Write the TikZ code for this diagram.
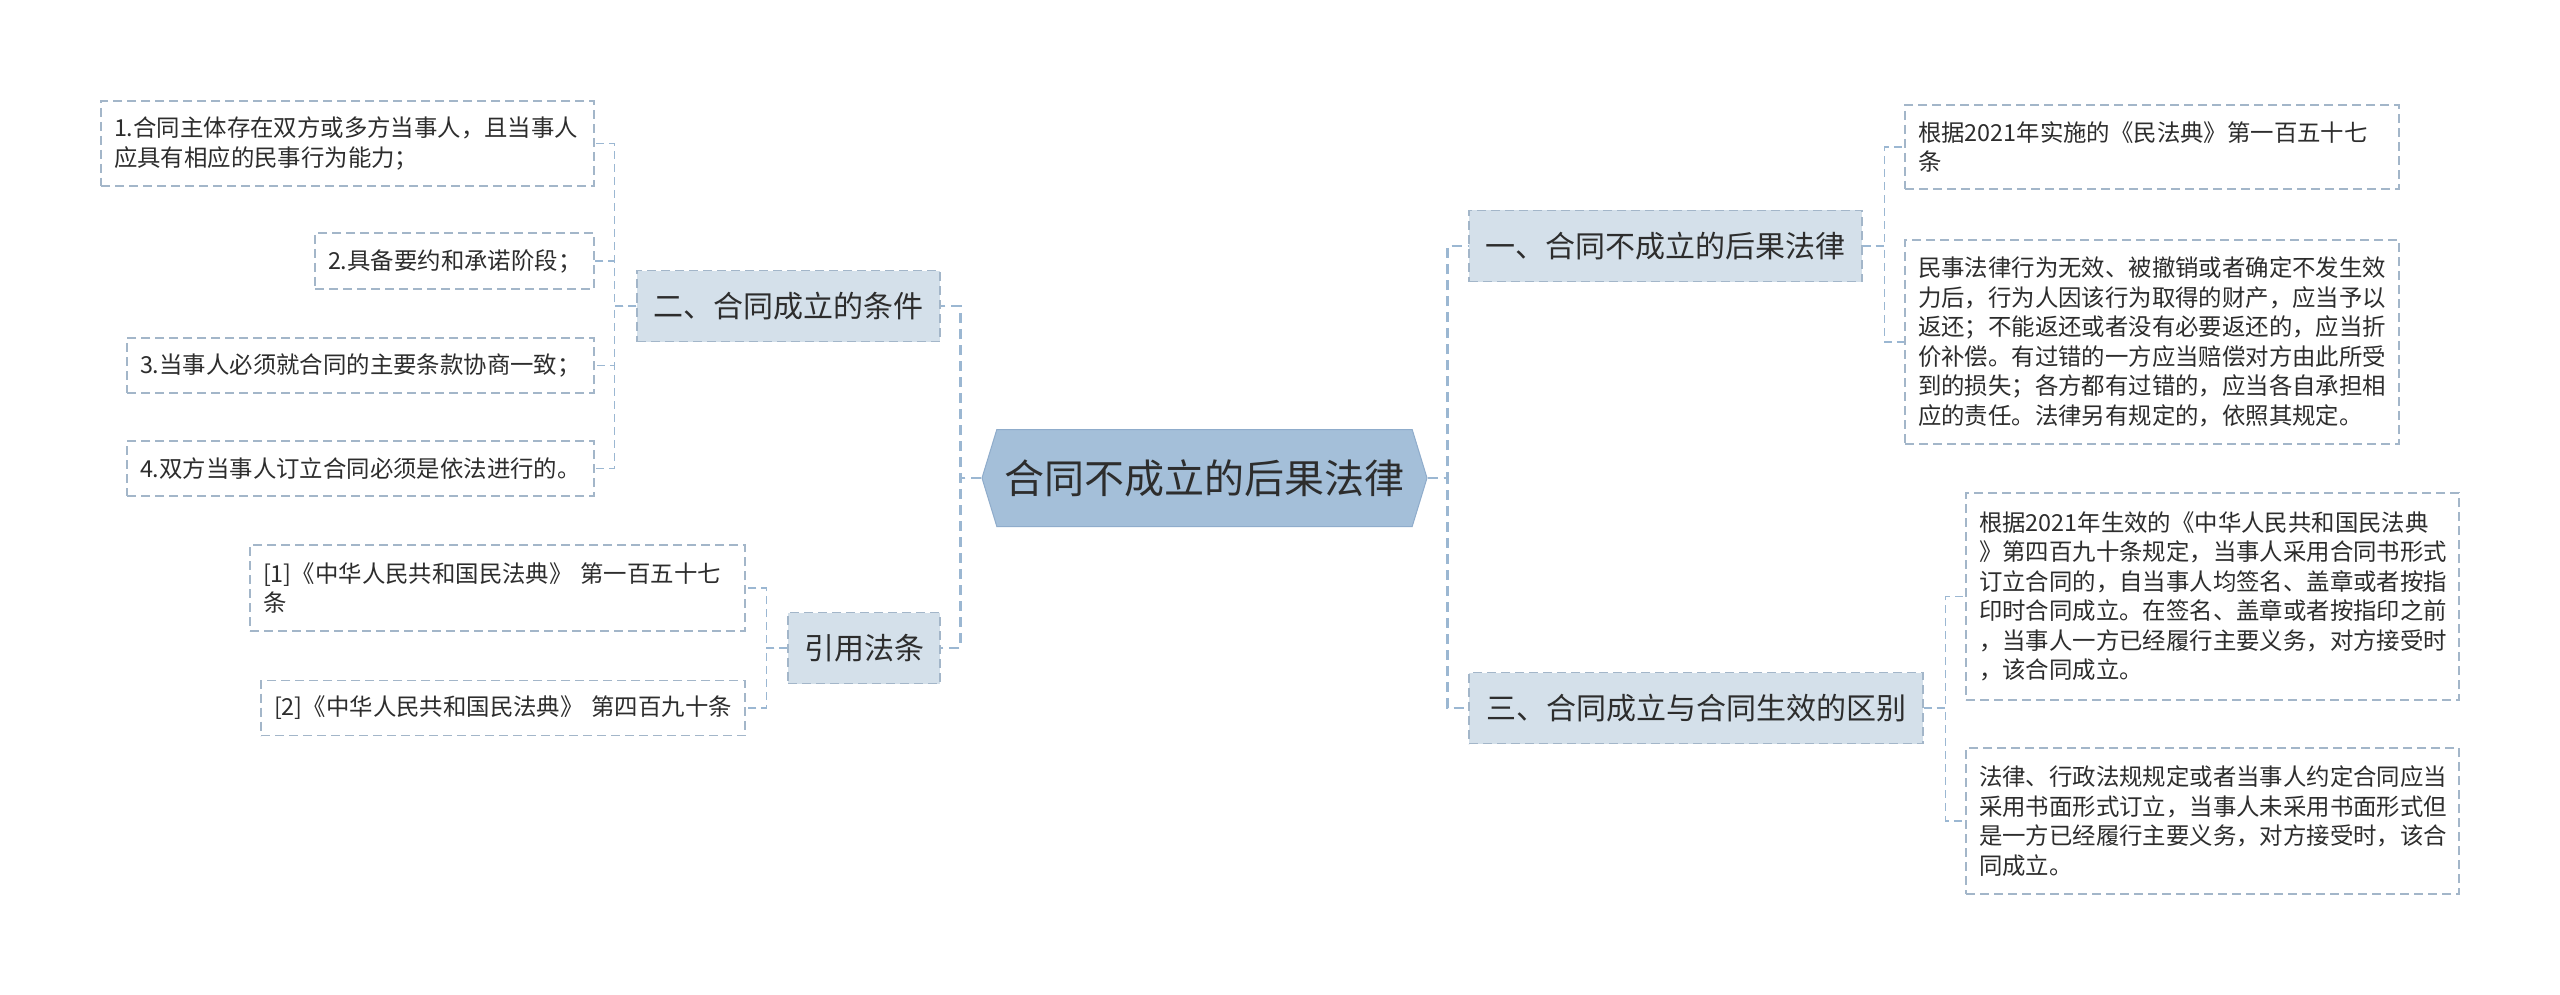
\documentclass[tikz,border=0pt]{standalone}
\usepackage{fontspec}
\setmainfont{Noto Sans CJK SC}
\usetikzlibrary{shapes.symbols}
\definecolor{hexfill}{RGB}{164, 191, 217}
\definecolor{hexline}{RGB}{143, 172, 203}
\definecolor{topicfill}{RGB}{212, 224, 234}
\definecolor{boxline}{RGB}{163, 182, 201}
\definecolor{linkline}{RGB}{155, 183, 210}
\definecolor{ink}{RGB}{45, 45, 45}

\begin{document}
\begin{tikzpicture}[x=1pt, y=-1pt,
    root/.style={
      signal, signal to=west and east, signal pointer angle=146,
      draw=hexline, line width=1pt, fill=hexfill,
      minimum width=445pt, minimum height=97pt, inner xsep=0pt,
      font=\fontsize{40}{48}\selectfont, text=ink
    },
    topic/.style={
      rectangle, draw=boxline, line width=1.5pt, dash pattern=on 9pt off 5pt,
      fill=topicfill, minimum height=71pt, inner xsep=16pt,
      font=\fontsize{30}{36}\selectfont, text=ink
    },
    leaf/.style={
      rectangle, draw=boxline, line width=1.3pt, dash pattern=on 9pt off 5pt,
      inner xsep=13pt, align=left, font=\fontsize{23.4}{29.5}\selectfont, text=ink
    },
    main/.style={draw=linkline, line width=2.5pt, dash pattern=on 10pt off 6pt},
    sub/.style={draw=linkline, line width=1.3pt, dash pattern=on 8pt off 5pt},
  ]
  \useasboundingbox[fill=white] (0,0) rectangle (2560,995);

  % Root
  \node[root] (root) at (1204.5, 478) {合同不成立的后果法律};

  % Topics
  \node[topic, minimum width=393pt] (t1) at (1665.5, 246) {一、合同不成立的后果法律};
  \node[topic, minimum width=303pt] (t2) at (788.5, 306) {二、合同成立的条件};
  \node[topic, minimum width=454pt] (t3) at (1696, 708) {三、合同成立与合同生效的区别};
  \node[topic, minimum width=152pt] (t4) at (864, 648) {引用法条};

  % Leaves of t2
  \node[leaf, text width=467pt, minimum height=85pt] (l1) at (347.5, 143.5)
    {1.合同主体存在双方或多方当事人，且当事人\\应具有相应的民事行为能力；};
  \node[leaf, text width=253pt, minimum height=56pt] (l2) at (454.5, 261)
    {2.具备要约和承诺阶段；};
  \node[leaf, text width=441pt, minimum height=55pt] (l3) at (360.5, 365.5)
    {3.当事人必须就合同的主要条款协商一致；};
  \node[leaf, text width=441pt, minimum height=55pt] (l4) at (360.5, 468.5)
    {4.双方当事人订立合同必须是依法进行的。};

  % Leaves of t4
  \node[leaf, text width=469pt, minimum height=86pt] (c1) at (497.5, 588)
    {[1]《中华人民共和国民法典》 第一百五十七\\条};
  \node[leaf, text width=458pt, minimum height=55pt] (c2) at (503, 708)
    {[2]《中华人民共和国民法典》 第四百九十条};

  % Leaves of t1
  \node[leaf, text width=468pt, minimum height=84pt] (r1) at (2152, 147)
    {根据2021年实施的《民法典》第一百五十七\\条};
  \node[leaf, text width=468pt, minimum height=204pt] (r2) at (2152, 342)
    {民事法律行为无效、被撤销或者确定不发生效\\力后，行为人因该行为取得的财产，应当予以\\返还；不能返还或者没有必要返还的，应当折\\价补偿。有过错的一方应当赔偿对方由此所受\\到的损失；各方都有过错的，应当各自承担相\\应的责任。法律另有规定的，依照其规定。};

  % Leaves of t3
  \node[leaf, text width=467pt, minimum height=207pt] (r3) at (2212.5, 596.5)
    {根据2021年生效的《中华人民共和国民法典\\》第四百九十条规定，当事人采用合同书形式\\订立合同的，自当事人均签名、盖章或者按指\\印时合同成立。在签名、盖章或者按指印之前\\，当事人一方已经履行主要义务，对方接受时\\，该合同成立。};
  \node[leaf, text width=467pt, minimum height=146pt] (r4) at (2212.5, 821)
    {法律、行政法规规定或者当事人约定合同应当\\采用书面形式订立，当事人未采用书面形式但\\是一方已经履行主要义务，对方接受时，该合\\同成立。};

  % Connectors from the root
  \draw[main] (root.west) -- ++(-21,0) |- (t2.east);
  \draw[main] (root.west) -- ++(-21,0) |- (t4.east);
  \draw[main] (root.east) -- ++(20,0) |- (t1.west);
  \draw[main] (root.east) -- ++(20,0) |- (t3.west);

  % Connectors to the leaves
  \foreach \leaf in {l1, l2, l3, l4}
    \draw[sub] (t2.west) -- ++(-22,0) |- (\leaf.east);
  \foreach \leaf in {c1, c2}
    \draw[sub] (t4.west) -- ++(-21,0) |- (\leaf.east);
  \foreach \leaf in {r1, r2}
    \draw[sub] (t1.east) -- ++(22,0) |- (\leaf.west);
  \foreach \leaf in {r3, r4}
    \draw[sub] (t3.east) -- ++(22,0) |- (\leaf.west);

\end{tikzpicture}
\end{document}
